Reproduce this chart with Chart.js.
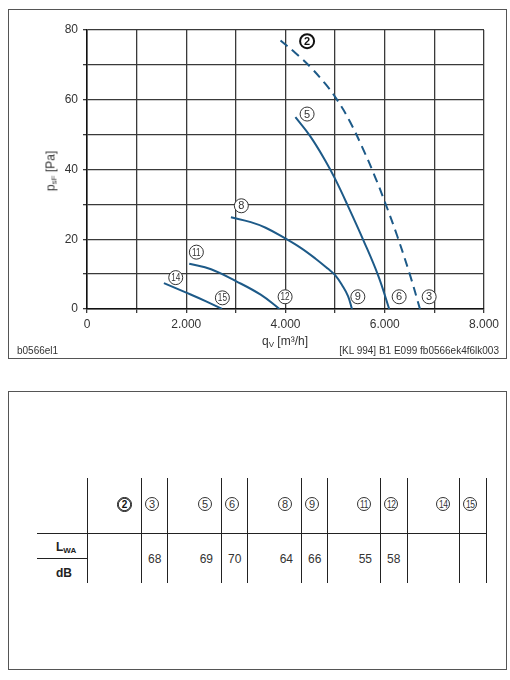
<!DOCTYPE html>
<html>
<head>
<meta charset="utf-8">
<script src="https://cdn.jsdelivr.net/npm/chart.js@4/dist/chart.umd.min.js"></script>
<style>
  body { margin: 0; width: 510px; height: 680px; background: #fff; position: relative; overflow: hidden;
         font-family: "Liberation Sans", Arial, sans-serif; color: #333; }
  .frame { position: absolute; box-sizing: border-box; border: 1.5px solid #555; }
  #topFrame { left: 8px; top: 9px; width: 499px; height: 350px; }
  #bottomFrame { left: 8px; top: 391px; width: 499px; height: 279px; }
  #chart { position: absolute; left: 0; top: 0; }
  .txt { position: absolute; white-space: nowrap; }
  .small { font-size: 10px; color: #333; }
  .title { font-size: 12px; color: #333; }
  .title sub { font-size: 8px; vertical-align: -2px; }
  .line { position: absolute; background: #222; }
  .cell { position: absolute; box-sizing: border-box; font-size: 12px; color: #333; }
  .circ { display: inline-block; box-sizing: border-box; width: 14px; height: 14px; border: 1px solid #333;
          border-radius: 50%; font-size: 11px; line-height: 12px; text-align: center; }
  .circ.bold { width: 15px; height: 15px; border: 1px solid #111; box-shadow: inset 0 0 0 0.8px #111;
               font-weight: bold; font-size: 10px; line-height: 13px; color: #111; }
  .circ .two { display: inline-block; transform: scaleX(0.8); letter-spacing: -0.5px; font-size: 10.5px; }
  .head { font-weight: bold; font-size: 12px; color: #222; }
  .head sub { font-size: 8px; vertical-align: -2px; }
</style>
</head>
<body>
<div class="frame" id="topFrame"></div>
<canvas id="chart" width="510" height="370"></canvas>
<div class="txt title" id="yTitle" style="left:51px; top:171px; transform: translate(-50%,-50%) rotate(-90deg);">p<sub>sF</sub> [Pa]</div>
<div class="txt title" id="xTitle" style="left:285px; top:334px; transform: translateX(-50%);">q<sub>V</sub> [m³/h]</div>
<div class="txt small" style="left:17px; top:345px;">b0566el1</div>
<div class="txt small" style="right:11px; top:345px;">[KL 994] B1 E099 fb0566ek4f6lk003</div>

<div class="frame" id="bottomFrame"></div>
<div id="table"></div>

<script>
// ---- data (q_V in m³/h, p_sF in Pa) ----
const curve2Q  = [3900, 4200, 4500, 4800, 5020, 5300, 5600, 5810, 6010, 6250, 6510, 6710];
const curve2P  = [77, 73.4, 69.4, 64.6, 60.4, 53.7, 44.7, 37.7, 30.4, 21, 9.7, 0];
const curve5Q  = [4200, 4500, 4800, 5000, 5250, 5570, 5870, 6090];
const curve5P  = [55, 49.5, 42.6, 37.3, 29.8, 19.7, 9.5, 0];
const curve8Q  = [2900, 3300, 3600, 4000, 4300, 4600, 4850, 5000, 5150, 5260, 5340];
const curve8P  = [26.3, 24.9, 23.3, 20.2, 17.6, 14.5, 11.6, 9.7, 6.6, 3.7, 0];
const curve11Q = [2060, 2500, 3000, 3500, 3880];
const curve11P = [13, 11.4, 8, 4.1, 0];
const curve14Q = [1550, 2000, 2400, 2720];
const curve14P = [7.4, 4.7, 2.2, 0];

// circled curve numbers on the chart, anchored in data units
const labelNums = ['2', '5', '8', '11', '14', '15', '12', '9', '6', '3'];
const labelQ    = [4435, 4435, 3110, 2204, 1788, 2728, 3992, 5458, 6290, 6895];
const labelP    = [76.8, 55.9, 29.6, 16.3, 9.0, 3.2, 3.5, 3.5, 3.5, 3.5];

// sound power table
const tableCurves = ['2', '3', '5', '6', '8', '9', '11', '12', '14', '15'];
const tableLwa    = ['', '68', '69', '70', '64', '66', '55', '58', '', ''];

const xTicksMin = 0, xTicksMax = 8000, xStep = 1000;
const yTicksMin = 0, yTicksMax = 80, yStep = 10;

const curveColor = '#1d5a88';

function pts(qs, ps) {
    return qs.map((q, i) => ({ x: q, y: ps[i] }));
}

function fmtThousands(v) {
    if (v === 0) return '0';
    return Math.floor(v / 1000) + '.' + String(v % 1000).padStart(3, '0');
}

const curveSets = [
    { data: pts(curve2Q, curve2P), dash: [9, 6] },
    { data: pts(curve5Q, curve5P) },
    { data: pts(curve8Q, curve8P) },
    { data: pts(curve11Q, curve11P) },
    { data: pts(curve14Q, curve14P) }
];

// draws the little circled numbers next to the curves
const curveLabelPlugin = {
    id: 'curveLabels',
    afterDatasetsDraw(chart) {
        const ctx = chart.ctx;
        const xs = chart.scales.x, ys = chart.scales.y;
        labelNums.forEach((n, i) => {
            const px = xs.getPixelForValue(labelQ[i]);
            const py = ys.getPixelForValue(labelP[i]);
            const bold = n === '2';
            ctx.save();
            ctx.beginPath();
            ctx.arc(px, py, 7, 0, Math.PI * 2);
            ctx.fillStyle = '#fff';
            ctx.fill();
            ctx.lineWidth = bold ? 2 : 1;
            ctx.strokeStyle = bold ? '#111' : '#333';
            ctx.stroke();
            ctx.fillStyle = bold ? '#111' : '#333';
            ctx.textAlign = 'center';
            ctx.textBaseline = 'middle';
            ctx.translate(px, py + 0.5);
            if (n.length > 1) {
                ctx.scale(0.78, 1);
                ctx.font = '10.5px "Liberation Sans", Arial, sans-serif';
            } else {
                ctx.font = (bold ? 'bold ' : '') + '11px "Liberation Sans", Arial, sans-serif';
            }
            ctx.fillText(n, 0, 0);
            ctx.restore();
        });
    }
};

try {
    const ctx = document.getElementById('chart').getContext('2d');
    new Chart(ctx, {
        type: 'line',
        data: {
            datasets: curveSets.map(c => ({
                data: c.data,
                borderColor: curveColor,
                borderWidth: 2,
                borderDash: c.dash || [],
                pointRadius: 0,
                fill: false,
                tension: 0.4
            }))
        },
        options: {
            responsive: false,
            animation: false,
            layout: { padding: { left: 0, top: 30, right: 26, bottom: 0 } },
            plugins: { legend: { display: false }, tooltip: { enabled: false } },
            scales: {
                x: {
                    type: 'linear',
                    min: xTicksMin, max: xTicksMax,
                    ticks: {
                        stepSize: xStep, autoSkip: false, maxRotation: 0, padding: 4,
                        color: '#333', font: { family: '"Liberation Sans", Arial, sans-serif', size: 12 },
                        callback: v => (v % 2000 === 0 ? fmtThousands(v) : '')
                    },
                    grid: { color: '#3a3a3a', lineWidth: 1.3, tickLength: 4 },
                    border: { color: '#111', width: 1.5 },
                    afterFit(s) { s.height = 61; }
                },
                y: {
                    type: 'linear',
                    min: yTicksMin, max: yTicksMax,
                    ticks: {
                        stepSize: yStep, autoSkip: false, padding: 5,
                        color: '#333', font: { family: '"Liberation Sans", Arial, sans-serif', size: 12 },
                        callback: v => (v % 20 === 0 ? String(v) : '')
                    },
                    grid: { color: '#3a3a3a', lineWidth: 1.3, tickLength: 4 },
                    border: { color: '#111', width: 1.5 },
                    afterFit(s) { s.width = 87; }
                }
            }
        },
        plugins: [curveLabelPlugin]
    });
} catch (e) {
    console.error('Chart failed:', e);
}

// ---- table below the chart ----
const colEdges = [87, 141, 167, 221, 247, 301, 327, 380, 407, 459, 486];
const tableTop = 478, tableBottom = 583, headerLine = 533, unitLine = 558;

function buildTable() {
    const box = document.getElementById('table');
    let html = '';
    colEdges.forEach(x => {
        html += `<div class="line" style="left:${x}px; top:${tableTop}px; width:1px; height:${tableBottom - tableTop}px;"></div>`;
    });
    html += `<div class="line" style="left:37px; top:${headerLine}px; width:${colEdges[colEdges.length - 1] - 37}px; height:1px;"></div>`;
    html += `<div class="line" style="left:37px; top:${unitLine}px; width:${colEdges[0] - 37}px; height:1px;"></div>`;

    html += `<div class="txt head" style="left:56px; top:540px;">L<sub>WA</sub></div>`;
    html += `<div class="txt head" style="left:56px; top:566px;">dB</div>`;

    tableCurves.forEach((n, i) => {
        const left = colEdges[i], w = colEdges[i + 1] - left;
        const wide = i % 2 === 0;
        const align = wide ? 'text-align:right; padding-right:9px;' : 'text-align:left; padding-left:4px;';
        const inner = n.length > 1 ? `<span class="two">${n}</span>` : n;
        html += `<div class="cell" style="left:${left}px; width:${w}px; top:497px; height:16px; ${align}">` +
                `<span class="circ${n === '2' ? ' bold' : ''}">${inner}</span></div>`;
        const valAlign = wide ? 'text-align:right; padding-right:8px;' : 'text-align:left; padding-left:7px;';
        html += `<div class="cell" style="left:${left}px; width:${w}px; top:552px; height:15px; ${valAlign}">${tableLwa[i]}</div>`;
    });
    box.innerHTML = html;
}

buildTable();
</script>
</body>
</html>
